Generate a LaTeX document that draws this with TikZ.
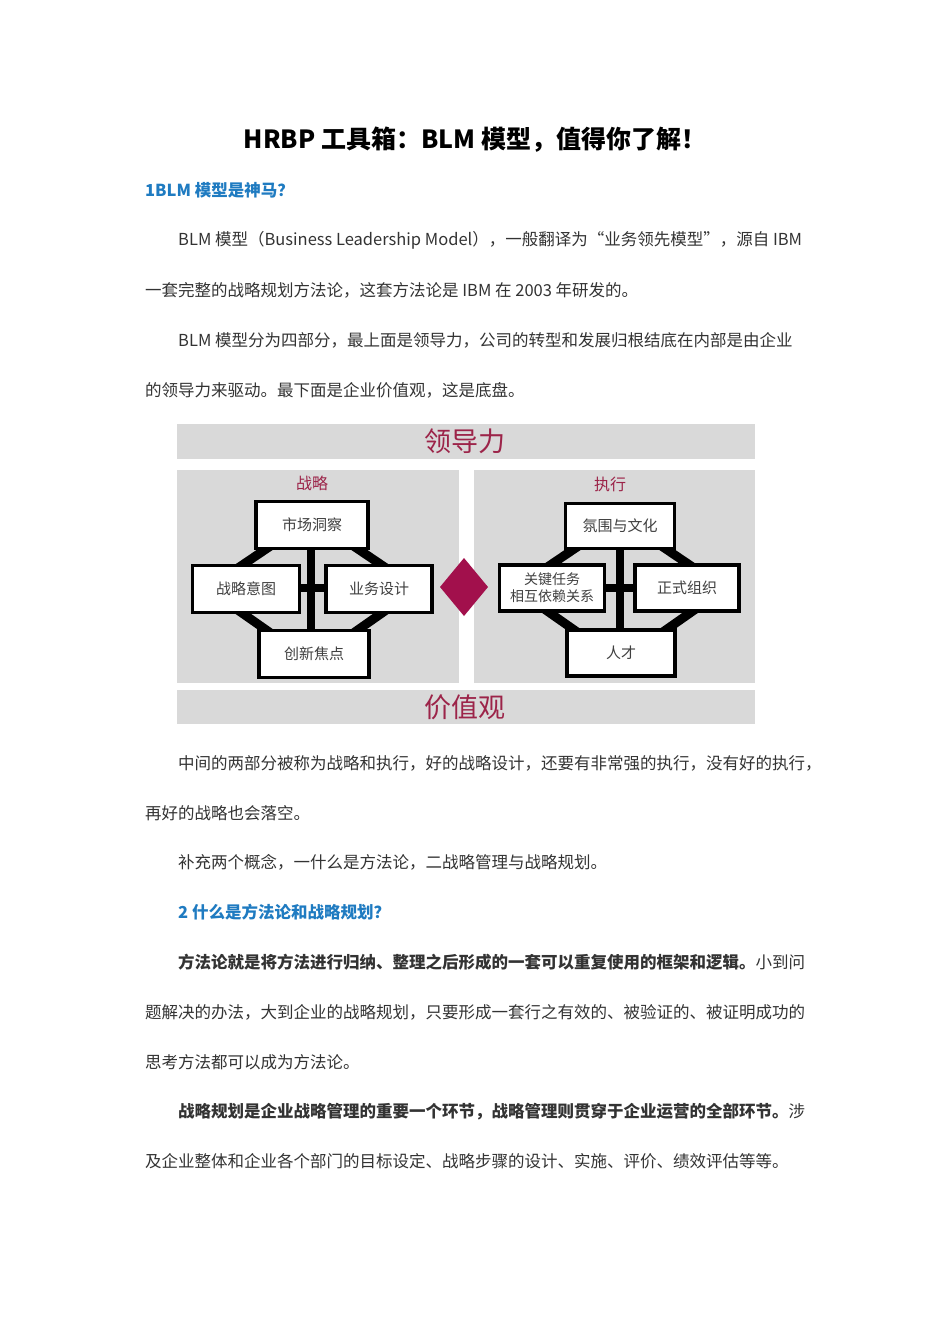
\documentclass[tikz,border=0pt]{standalone}
\usepackage{fontspec}
\setmainfont{Noto Sans CJK SC}
\definecolor{txt}{HTML}{333333}
\definecolor{hblue}{HTML}{1F7BC1}
\definecolor{band}{HTML}{D9D9D9}
\definecolor{wine}{HTML}{9C2449}
\definecolor{dia}{HTML}{A2104C}
\begin{document}
\begin{tikzpicture}[x=1pt,y=-1pt,
  para/.style={anchor=west,font=\fontsize{16.5}{18}\selectfont,text=txt,inner sep=0},
  head/.style={anchor=west,font=\fontsize{16.5}{18}\selectfont\bfseries,text=hblue,inner sep=0},
  wbox/.style={draw=black,line width=3.5pt,fill=white,inner sep=0,font=\fontsize{15}{17}\selectfont,text=black!75,align=center},
  bandtxt/.style={font=\fontsize{27}{30}\selectfont,text=wine},
  ptitle/.style={font=\fontsize{16}{18}\selectfont,text=wine}]
\useasboundingbox[fill=white] (0,0) rectangle (950,1344);
\node[font=\fontsize{25}{28}\selectfont\bfseries,text=black] (title) at (475,140) {HRBP 工具箱：BLM 模型，值得你了解！};
\node[head] (h1) at (145,190) {1BLM 模型是神马？};
\node[para] (p1) at (178,240) {BLM 模型（Business Leadership Model），一般翻译为“业务领先模型”，源自 IBM};
\node[para] (p2) at (145,290) {一套完整的战略规划方法论，这套方法论是 IBM 在 2003 年研发的。};
\node[para] (p3) at (178,340) {BLM 模型分为四部分，最上面是领导力，公司的转型和发展归根结底在内部是由企业};
\node[para] (p4) at (145,390) {的领导力来驱动。最下面是企业价值观，这是底盘。};
% diagram
\fill[band] (177,424) rectangle (755,459);
\node[bandtxt] (lead) at (465,441) {领导力};
\fill[band] (177,470) rectangle (459,683);
\fill[band] (474,470) rectangle (755,683);
\fill[band] (177,690) rectangle (755,724);
\node[bandtxt] (val) at (465,707) {价值观};
\fill[dia] (464,558) -- (488,587) -- (464,616) -- (440,587) -- cycle;
\node[ptitle] (zl) at (312,483) {战略};
\node[ptitle] (zx) at (610,484) {执行};
% left frame
\draw[line width=9pt,line join=miter] (272,545) -- (232,572) -- (232,606) -- (272,634) -- (352,634) -- (392,606) -- (392,572) -- (352,545) -- cycle;
\draw[line width=8pt] (311,545) -- (311,634);
\draw[line width=8pt] (296,588) -- (330,588);
\node[wbox,minimum width=112pt,minimum height=47pt] (a1) at (312,525) {市场洞察};
\node[wbox,minimum width=107pt,minimum height=47pt] (a2) at (246,589) {战略意图};
\node[wbox,minimum width=106pt,minimum height=47pt] (a3) at (379,589) {业务设计};
\node[wbox,minimum width=110pt,minimum height=47pt] (a4) at (314,654) {创新焦点};
% right frame
\draw[line width=9pt,line join=miter] (580,545) -- (540,572) -- (540,606) -- (580,634) -- (660,634) -- (700,606) -- (700,572) -- (660,545) -- cycle;
\draw[line width=8pt] (620,545) -- (620,634);
\draw[line width=8pt] (600,588) -- (640,588);
\node[wbox,minimum width=109pt,minimum height=45pt] (b1) at (620,526) {氛围与文化};
\node[wbox,minimum width=105pt,minimum height=46pt,font=\fontsize{14}{17}\selectfont] (b2) at (552,588) {关键任务\\相互依赖关系};
\node[wbox,minimum width=104pt,minimum height=46pt] (b3) at (687,588) {正式组织};
\node[wbox,minimum width=108pt,minimum height=46pt] (b4) at (621,653) {人才};
% text after
\node[para] (p5) at (178,763) {中间的两部分被称为战略和执行，好的战略设计，还要有非常强的执行，没有好的执行，};
\node[para] (p6) at (145,813) {再好的战略也会落空。};
\node[para] (p7) at (178,862) {补充两个概念，一什么是方法论，二战略管理与战略规划。};
\node[head] (h2) at (178,912) {2 什么是方法论和战略规划？};
\node[para] (p8) at (178,962) {\textbf{方法论就是将方法进行归纳、整理之后形成的一套可以重复使用的框架和逻辑。}小到问};
\node[para] (p9) at (145,1012) {题解决的办法，大到企业的战略规划，只要形成一套行之有效的、被验证的、被证明成功的};
\node[para] (p10) at (145,1062) {思考方法都可以成为方法论。};
\node[para] (p11) at (178,1112) {\textbf{战略规划是企业战略管理的重要一个环节，战略管理则贯穿于企业运营的全部环节。}涉};
\node[para] (p12) at (145,1161) {及企业整体和企业各个部门的目标设定、战略步骤的设计、实施、评价、绩效评估等等。};
\end{tikzpicture}
\end{document}
